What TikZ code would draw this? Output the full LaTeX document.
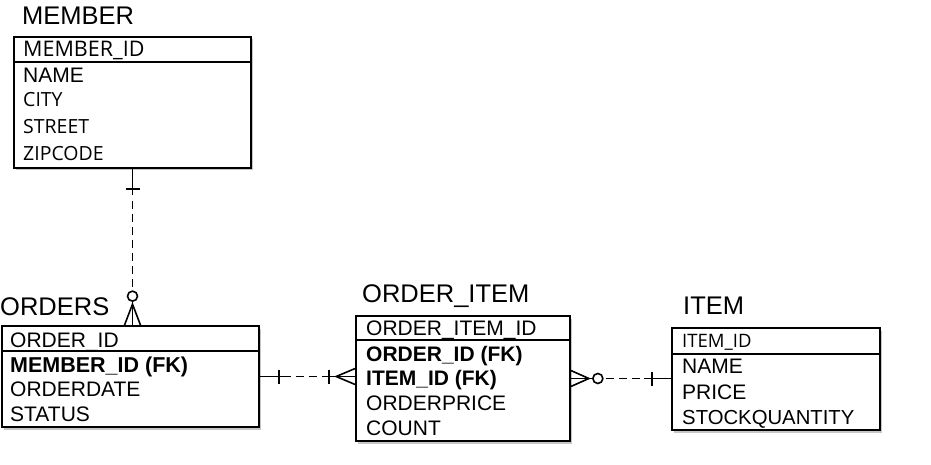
\documentclass[tikz,border=0pt]{standalone}
\usepackage{fontspec}
\setmainfont{Liberation Sans}
\newfontfamily\osans{Open Sans}
\usetikzlibrary{calc,shadows}
\begin{document}
\begin{tikzpicture}[x=1pt,y=-1pt,
  tbl/.style={draw, line width=1.7pt, fill=white, inner sep=0pt,
    drop shadow={shadow xshift=1.5pt, shadow yshift=-2.5pt, opacity=0.45}},
  sep/.style={line width=1.4pt},
  title/.style={anchor=base west, inner sep=0pt, font=\fontsize{25.5}{30}\selectfont},
  row/.style={anchor=base west, inner sep=0pt, font=\fontsize{21}{25}\selectfont},
  brow/.style={anchor=base west, inner sep=0pt, font=\fontsize{21.5}{25}\selectfont\bfseries},
  orow/.style={anchor=base west, inner sep=0pt, font=\osans\fontsize{19.5}{24}\selectfont},
  conn/.style={line width=1.6pt},
  dsh/.style={line width=1.6pt, dash pattern=on 8pt off 5pt}]
\useasboundingbox (0,0) rectangle (931,465);

% ---- tables ----
\node[tbl, minimum width=237pt, minimum height=131pt] (member) at (132.5,102.5) {};
\node[tbl, minimum width=257pt, minimum height=101pt] (orders) at (130.5,376.5) {};
\node[tbl, minimum width=214pt, minimum height=125pt] (oi) at (463,378.5) {};
\node[tbl, minimum width=208pt, minimum height=102pt] (item) at (776,379) {};

\draw[sep] (member.west |- 0,62) -- (member.east |- 0,62);
\draw[sep] (orders.west |- 0,351) -- (orders.east |- 0,351);
\draw[sep] (oi.west |- 0,340) -- (oi.east |- 0,340);
\draw[sep] (item.west |- 0,354) -- (item.east |- 0,354);

% ---- titles ----
\node[title] (tmember) at (22,25) {MEMBER};
\node[title] (torders) at (0,315) {ORDERS};
\node[title] (toi) at (362,302) {ORDER\_ITEM};
\node[title] (titem) at (683,314) {ITEM};

% ---- MEMBER rows ----
\node[orow, font=\osans\fontsize{21.5}{24}\selectfont] (m1) at (23,57) {MEMBER\_ID};
\node[row] (m2) at (23,83) {NAME};
\node[orow] (m3) at (23,107) {CITY};
\node[orow] (m4) at (23,134) {STREET};
\node[orow] (m5) at (23,161) {ZIPCODE};

% ---- ORDERS rows ----
\node[row] (o1) at (10,347) {ORDER\_ID};
\node[brow] (o2) at (10,372) {MEMBER\_ID (FK)};
\node[row] (o3) at (10,396) {ORDERDATE};
\node[row] (o4) at (10,421) {STATUS};

% ---- ORDER_ITEM rows ----
\node[row] (i1) at (366,335) {ORDER\_ITEM\_ID};
\node[brow, font=\fontsize{21}{25}\selectfont\bfseries] (i2) at (366,361) {ORDER\_ID (FK)};
\node[brow, font=\fontsize{21}{25}\selectfont\bfseries] (i3) at (366,385) {ITEM\_ID (FK)};
\node[row] (i4) at (366,410) {ORDERPRICE};
\node[row] (i5) at (366,435) {COUNT};

% ---- ITEM rows ----
\node[orow, font=\osans\fontsize{18.5}{22}\selectfont] (t1) at (682,347) {ITEM\_ID};
\node[row] (t2) at (682,373) {NAME};
\node[row] (t3) at (682,399) {PRICE};
\node[row, font=\fontsize{20.3}{24}\selectfont] (t4) at (682,424) {STOCKQUANTITY};

% ---- MEMBER -- ORDERS ----
\coordinate (a0) at (member.south);
\coordinate (a1) at (member.south |- orders.north);
\draw[conn] (a0) -- ($(a0)+(0,26)$);
\draw[conn] ($(a0)+(-7,20)$) -- ($(a0)+(7,20)$);
\draw[dsh] ($(a0)+(0,32)$) -- ($(a1)+(0,-35)$);
\draw[conn] ($(a1)+(0,-29)$) circle[radius=5pt];
\draw[conn] ($(a1)+(0,-24)$) -- (a1);
\draw[conn] ($(a1)+(-8,0)$) -- ($(a1)+(0,-21)$) -- ($(a1)+(8,0)$);

% ---- ORDERS -- ORDER_ITEM ----
\coordinate (b0) at (orders.east);
\coordinate (b1) at (orders.east -| oi.west);
\draw[conn] (b0) -- ($(b0)+(31,0)$);
\draw[conn] ($(b0)+(19,-7)$) -- ($(b0)+(19,7)$);
\draw[dsh] ($(b0)+(36,0)$) -- ($(b1)+(-31,0)$);
\draw[conn] ($(b1)+(-31,0)$) -- (b1);
\draw[conn] ($(b1)+(-26,-7)$) -- ($(b1)+(-26,7)$);
\draw[conn] ($(b1)+(0,-8)$) -- ($(b1)+(-19,0)$) -- ($(b1)+(0,8)$);

% ---- ORDER_ITEM -- ITEM ----
\coordinate (c0) at (oi.east);
\coordinate (c1) at (oi.east -| item.west);
\draw[conn] ($(c0)+(0,-8)$) -- ($(c0)+(18,0)$) -- ($(c0)+(0,8)$);
\draw[conn] (c0) -- ($(c0)+(22,0)$);
\draw[conn] ($(c0)+(27,0)$) circle[radius=5pt];
\draw[dsh] ($(c0)+(35,0)$) -- ($(c1)+(-27,0)$);
\draw[conn] ($(c1)+(-19,-7)$) -- ($(c1)+(-19,7)$);
\draw[conn] ($(c1)+(-27,0)$) -- (c1);
\end{tikzpicture}
\end{document}
